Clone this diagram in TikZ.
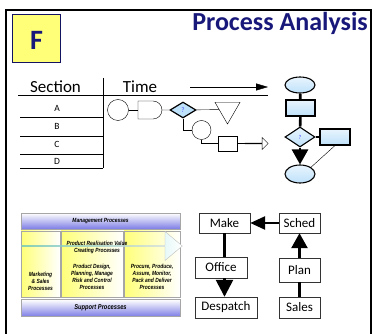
\documentclass[tikz,border=0pt]{standalone}
\usepackage{fontspec}
\setmainfont{Carlito}
\newfontfamily\mapfont[FakeStretch=0.82]{Liberation Sans}
\usetikzlibrary{positioning,shapes.geometric,shapes.misc,shapes.arrows,arrows.meta}

\definecolor{navy}{RGB}{24,24,122}
\definecolor{paleyellow}{RGB}{255,255,120}
\definecolor{iceblue}{RGB}{190,225,250}
\definecolor{lavender}{RGB}{125,125,230}
\definecolor{seateal}{RGB}{30,200,185}

\tikzset{
  flowshape/.style={draw, line width=1.1pt, inner sep=0, top color=iceblue!35, bottom color=iceblue},
  chartbox/.style={draw=black!80, inner sep=0, font=\fontsize{13}{13}\selectfont},
  mapbar/.style={draw=gray!70, top color=white, bottom color=lavender, minimum width=159pt, inner sep=0},
  mapcol/.style={draw=gray!70, left color=paleyellow, right color=white, minimum height=66pt, inner sep=0},
  maptext/.style={font=\mapfont\bfseries\itshape\fontsize{6}{7}\selectfont, align=center, inner sep=0},
  heavy/.style={line width=2.6pt},
}

\begin{document}
\begin{tikzpicture}[x=1pt,y=-1pt]
  \useasboundingbox (0,0) rectangle (376,334);
  % frame and heading
  \draw[line width=2.4pt] (6,340) -- (6,10) -- (371,10) -- (371,340);
  \node[draw=navy!80!black, fill=paleyellow, minimum size=48pt, text height=23pt,
        font=\bfseries\fontsize{28}{28}\selectfont, text=navy] (letter) at (36.5,38.5) {F};
  \node[anchor=base east, inner sep=0, font=\bfseries\fontsize{26}{26}\selectfont,
        text=navy] (title) at (368,31) {Process Analysis};

  % section / time table
  \begin{scope}[every node/.style={inner sep=0, font=\fontsize{17}{17}\selectfont}]
    \node[anchor=base] (section) at (55.5,93) {Section};
    \node[anchor=base] (time) at (140,93) {Time};
  \end{scope}
  \draw (18,95) -- (268,95);
  \draw (103,78) -- (103,168);
  \foreach \y in {117,136,154,168}
    \draw (20,\y) -- (103,\y);
  \begin{scope}[every node/.style={font=\fontsize{9.5}{9.5}\selectfont}]
    \node (rowA) at (57,108) {A};
    \node (rowB) at (57,126) {B};
    \node (rowC) at (57,144) {C};
    \node (rowD) at (57,161) {D};
  \end{scope}
  \coordinate (timeL) at (190,87);
  \coordinate (timeR) at (268,87);
  \draw[-{Triangle[length=12pt,width=7pt]}] (timeL) -- (timeR);

  % process chart symbols
  \begin{scope}[every node/.style={draw, inner sep=0}]
    \node[circle, minimum size=21pt] (start) at (118,110) {};
    \node[rounded rectangle, rounded rectangle left arc=none,
          minimum width=24pt, minimum height=18pt] (delay) at (150,110) {};
    \node[diamond, line width=1.2pt, fill=iceblue, minimum width=26pt, minimum height=16pt,
          font=\fontsize{7}{7}\selectfont, text=blue!70] (query) at (183,110) {?};
    \node[regular polygon, regular polygon sides=3, shape border rotate=180,
          minimum size=29pt] (store) at (227.5,109.5) {};
    \node[circle, minimum size=19pt] (loop) at (201.5,130) {};
    \node[minimum width=19pt, minimum height=15pt] (task) at (227.5,143.5) {};
    \node[single arrow, minimum height=23pt, minimum width=12pt,
          single arrow head extend=3pt] (exit) at (256.5,143.5) {};
  \end{scope}
  \draw (start) -- (delay);
  \draw (delay) -- (query);
  \draw (query) -- (store);
  \draw (query.south) |- (loop.west);
  \draw (loop.south) |- (task.west);
  \draw (task) -- (exit);

  % flowchart
  \begin{scope}[every node/.style={flowshape}]
    \node[ellipse, minimum width=30pt, minimum height=16pt] (begin) at (300,85) {};
    \node[minimum width=29pt, minimum height=16pt] (act) at (300.5,108) {};
    \node[diamond, minimum width=30pt, minimum height=20pt,
          font=\fontsize{6}{6}\selectfont, text=blue!70] (check) at (300,137) {?};
    \node[minimum width=30pt, minimum height=16pt] (note) at (335,137) {};
    \node[ellipse, minimum width=30pt, minimum height=18pt] (finish) at (300,174) {};
  \end{scope}
  \draw[heavy] (begin) -- (act);
  \draw[heavy] (act) -- (check);
  \draw[heavy, -{Triangle[length=15pt,width=16pt]}] (check) -- (finish);
  \draw[line width=1.1pt] (check.east) -- (note.west);
  \draw[thin] (note.south) -- (finish.north east);

  % process map
  \node[mapbar, minimum height=16pt] (mgmt) at (100.5,221) {};
  \node[mapcol, minimum width=39pt] (colA) at (40.5,264) {};
  \node[mapcol, minimum width=62pt] (colB) at (92,264) {};
  \node[mapcol, minimum width=56pt] (colC) at (152,264) {};
  \node[single arrow, draw=gray!50, left color=seateal, right color=white,
        minimum height=161pt, minimum width=29pt, single arrow head extend=5.5pt,
        single arrow tip angle=80, inner sep=0] (value) at (101.5,246) {};
  \node[mapbar, minimum height=17pt] (support) at (100.5,308) {};
  \begin{scope}[every node/.style={maptext}]
    \node (mgmtText) at (mgmt) {Management Processes};
    \node (valueText) at (97,247) {Product Realisation Value\\Creating Processes};
    \node (colAText) at (40.5,281) {Marketing\\\& Sales\\Processes};
    \node (colBText) at (92,276.5) {Product Design,\\Planning, Manage\\Risk and Control\\Processes};
    \node (colCText) at (152,276.5) {Procure, Produce,\\Assure, Monitor,\\Pack and Deliver\\Processes};
    \node[font=\mapfont\bfseries\itshape\fontsize{7}{8}\selectfont] (supportText) at (support) {Support Processes};
  \end{scope}

  % production chain
  \begin{scope}[every node/.style={chartbox}]
    \node[minimum width=51pt, minimum height=20pt] (make) at (224.5,223) {Make};
    \node[minimum width=41pt, minimum height=20pt] (sched) at (299.5,223) {Sched};
    \node[minimum width=52pt, minimum height=21pt] (office) at (221,267.5) {Office};
    \node[minimum width=62pt, minimum height=21pt] (despatch) at (226,307.5) {Despatch};
    \node[minimum width=41pt, minimum height=24pt] (plan) at (299.5,270) {Plan};
    \node[minimum width=41pt, minimum height=21pt] (sales) at (299.5,307.5) {Sales};
  \end{scope}
  \draw[heavy, -{Triangle[length=15pt,width=13pt]}] (sched) -- (make);
  \draw[heavy] (make.south) -- (make.south |- office.north);
  \draw[heavy, -{Triangle[length=17pt,width=17pt]}] (make.south |- office.south) -- (make.south |- despatch.north);
  \draw[heavy] (sales) -- (plan);
  \draw[heavy, -{Triangle[length=15pt,width=16pt]}] (plan) -- (sched);
\end{tikzpicture}
\end{document}
